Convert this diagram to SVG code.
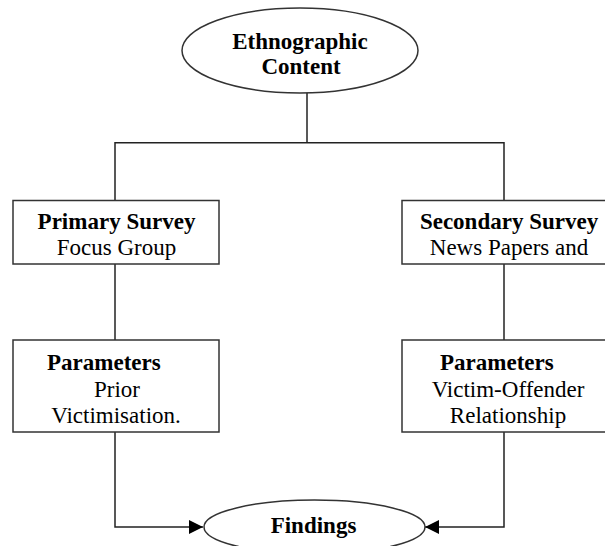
<svg xmlns="http://www.w3.org/2000/svg" width="605" height="546" viewBox="0 0 605 546">
<defs>
<marker id="arr" viewBox="0 0 10 10" refX="10" refY="5" markerWidth="14" markerHeight="14" markerUnits="userSpaceOnUse" orient="auto">
<path d="M0,0 L10,5 L0,10 Z" fill="#000"/>
</marker>
<style>
.shape{fill:#fff;stroke:#333;stroke-width:1.5}
.line{fill:none;stroke:#222;stroke-width:1.5}
text{font-family:"Liberation Serif","Times New Roman",serif;font-size:23px;fill:#000}
.b{font-weight:bold}
.c{text-anchor:middle}
</style>
</defs>
<rect width="605" height="546" fill="#fff"/>
<g id="connectors">
<path class="line" d="M307,92.5 V142.7"/>
<path class="line" d="M115,200.5 V142.7 H504 V200.5"/>
<path class="line" d="M115,264 V340"/>
<path class="line" d="M504,264 V340"/>
<path class="line" d="M115,432 V527 H203" marker-end="url(#arr)"/>
<path class="line" d="M504,432 V527 H425" marker-end="url(#arr)"/>
</g>
<g id="ethnographic">
<ellipse class="shape" cx="300" cy="50.5" rx="118" ry="42.5"/>
<text class="b c" x="300" y="48.5">Ethnographic</text>
<text class="b c" x="301" y="74">Content</text>
</g>
<g id="primary">
<rect class="shape" x="13" y="200.5" width="206" height="63.5"/>
<text class="b c" x="116.5" y="228.5">Primary Survey</text>
<text class="c" x="116.5" y="255">Focus Group</text>
</g>
<g id="secondary">
<rect class="shape" x="402" y="200.5" width="206" height="63.5"/>
<text class="b c" x="509" y="228.5">Secondary Survey</text>
<text class="c" x="509" y="255">News Papers and</text>
</g>
<g id="params-left">
<rect class="shape" x="13" y="340" width="206" height="92"/>
<text class="b" x="47" y="369.5">Parameters</text>
<text class="c" x="117" y="397">Prior</text>
<text class="c" x="116" y="422.5">Victimisation.</text>
</g>
<g id="params-right">
<rect class="shape" x="402" y="340" width="206" height="92"/>
<text class="b" x="440" y="369.5">Parameters</text>
<text class="c" x="508" y="397">Victim-Offender</text>
<text class="c" x="508" y="422.5">Relationship</text>
</g>
<g id="findings">
<ellipse class="shape" cx="314.5" cy="527" rx="110.5" ry="27"/>
<text class="b c" x="313.5" y="533">Findings</text>
</g>
</svg>
